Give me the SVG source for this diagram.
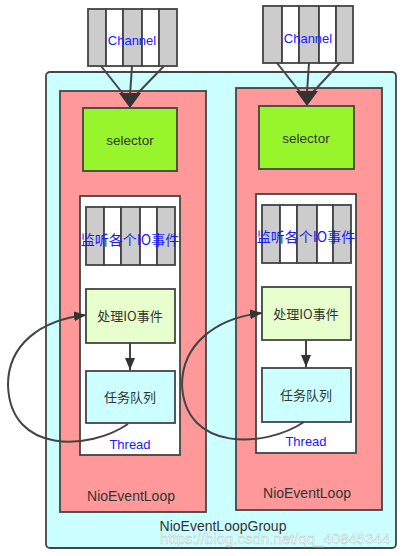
<svg xmlns="http://www.w3.org/2000/svg" width="413" height="556" viewBox="0 0 413 556">
<style>
.bd{stroke:#444;stroke-width:1.8}
.gray{fill:#cccccc}
.white{fill:#ffffff}
.pink{fill:#ff9999}
.cyan{fill:#ccffff}
.green{fill:#99f52b}
.lgreen{fill:#e6ffcc}
.blue{fill:#1a1aff;font-family:"Liberation Sans","Noto Sans CJK SC",sans-serif;text-anchor:middle}
.dark{fill:#333;font-family:"Liberation Sans","Noto Sans CJK SC",sans-serif;text-anchor:middle}
.cjk{font-family:"Noto Sans CJK SC",sans-serif}
.line{fill:none;stroke:#444;stroke-width:2}
</style>
<defs>
<marker id="big" markerWidth="12" markerHeight="10" refX="12" refY="5" orient="auto" markerUnits="userSpaceOnUse" viewBox="0 0 12 10">
<path d="M0,0 L12,5 L0,10 z" fill="#333"/>
</marker>
<marker id="arr" markerWidth="12" markerHeight="10" refX="12" refY="5" orient="auto" markerUnits="userSpaceOnUse" viewBox="0 0 12 10">
<path d="M0,0 L12,5 L0,10 z" fill="#333"/>
</marker>
</defs>
<g id="group">
<rect class="cyan bd" x="46" y="72" width="350" height="476" rx="4"/>
<text class="dark" x="223" y="531" font-size="14">NioEventLoopGroup</text>
</g>
<g id="loop1">
<rect class="pink bd" x="60" y="91" width="146" height="421"/>
<text class="dark" x="131" y="501" font-size="14">NioEventLoop</text>
</g>
<g id="loop2">
<rect class="pink bd" x="236" y="88" width="146" height="422"/>
<text class="dark" x="307" y="498" font-size="14">NioEventLoop</text>
</g>
<g id="channel1">
<rect class="gray bd" x="88" y="9" width="18" height="57"/>
<rect class="white bd" x="106" y="9" width="17" height="57"/>
<rect class="gray bd" x="123" y="9" width="19" height="57"/>
<rect class="white bd" x="142" y="9" width="17" height="57"/>
<rect class="gray bd" x="159" y="9" width="18" height="57"/>
<text class="blue" x="132" y="45" font-size="13">Channel</text>
</g>
<g id="channel2">
<rect class="gray bd" x="263" y="6" width="19" height="57"/>
<rect class="white bd" x="282" y="6" width="17" height="57"/>
<rect class="gray bd" x="299" y="6" width="20" height="57"/>
<rect class="white bd" x="319" y="6" width="17" height="57"/>
<rect class="gray bd" x="336" y="6" width="17" height="57"/>
<text class="blue" x="308" y="43" font-size="13">Channel</text>
</g>
<g id="selector1">
<rect class="green bd" x="83" y="108" width="94" height="63"/>
<text class="dark" x="130" y="145" font-size="13.5">selector</text>
</g>
<g id="selector2">
<rect class="green bd" x="259" y="106" width="95" height="63"/>
<text class="dark" x="306" y="143" font-size="13.5">selector</text>
</g>
<g id="thread1">
<rect class="white bd" x="80" y="196" width="100" height="259"/>
<text class="blue" x="130" y="449" font-size="13">Thread</text>
</g>
<g id="thread2">
<rect class="white bd" x="256" y="194" width="100" height="259"/>
<text class="blue" x="306" y="446" font-size="13">Thread</text>
</g>
<g id="listen1">
<rect class="gray bd" x="86" y="207" width="18" height="58"/>
<rect class="white bd" x="104" y="207" width="17" height="58"/>
<rect class="gray bd" x="121" y="207" width="19" height="58"/>
<rect class="white bd" x="140" y="207" width="17" height="58"/>
<rect class="gray bd" x="157" y="207" width="18" height="58"/>
<text class="blue cjk" x="130" y="245" font-size="14">监听各个IO事件</text>
</g>
<g id="listen2">
<rect class="gray bd" x="262" y="205" width="18" height="58"/>
<rect class="white bd" x="280" y="205" width="17" height="58"/>
<rect class="gray bd" x="297" y="205" width="20" height="58"/>
<rect class="white bd" x="317" y="205" width="16" height="58"/>
<rect class="gray bd" x="333" y="205" width="18" height="58"/>
<text class="blue cjk" x="306" y="242" font-size="14">监听各个IO事件</text>
</g>
<g id="handle1">
<rect class="lgreen bd" x="86" y="289" width="89" height="54"/>
<text class="dark cjk" x="130" y="321" font-size="13">处理IO事件</text>
</g>
<g id="handle2">
<rect class="lgreen bd" x="262" y="287" width="89" height="53"/>
<text class="dark cjk" x="306" y="319" font-size="13">处理IO事件</text>
</g>
<g id="queue1">
<rect class="cyan bd" x="86" y="371" width="89" height="52"/>
<text class="dark cjk" x="130" y="402" font-size="13">任务队列</text>
</g>
<g id="queue2">
<rect class="cyan bd" x="262" y="368" width="89" height="54"/>
<text class="dark cjk" x="306" y="400" font-size="13">任务队列</text>
</g>
<g id="connectors">
<path class="line" d="M101,66 L124,95"/>
<path class="line" d="M132,66 L130,95"/>
<path class="line" d="M164,66 L136,95"/>
<path d="M119,93 L141,93 L130,108 z" fill="#333"/>
<path class="line" d="M277,63 L300,92"/>
<path class="line" d="M309,63 L307,92"/>
<path class="line" d="M340,63 L313,92"/>
<path d="M296,91 L318,91 L307,106 z" fill="#333"/>
<path class="line" d="M130,343 L130,370" marker-end="url(#arr)"/>
<path class="line" d="M306,340 L306,367" marker-end="url(#arr)"/>
<path class="line" d="M128,424 C90,450 10,455 8,385 C8,345 40,320 86,315" marker-end="url(#big)"/>
<path class="line" d="M304,422 C265,448 185,452 182,385 C182,345 215,318 262,313" marker-end="url(#big)"/>
</g>
<text x="160" y="544" font-size="15" font-family="Liberation Sans,sans-serif" fill="#ffffff" fill-opacity="0.75" stroke="#bbbbbb" stroke-width="0.4">https://blog.csdn.net/qq_40845344</text>
</svg>
